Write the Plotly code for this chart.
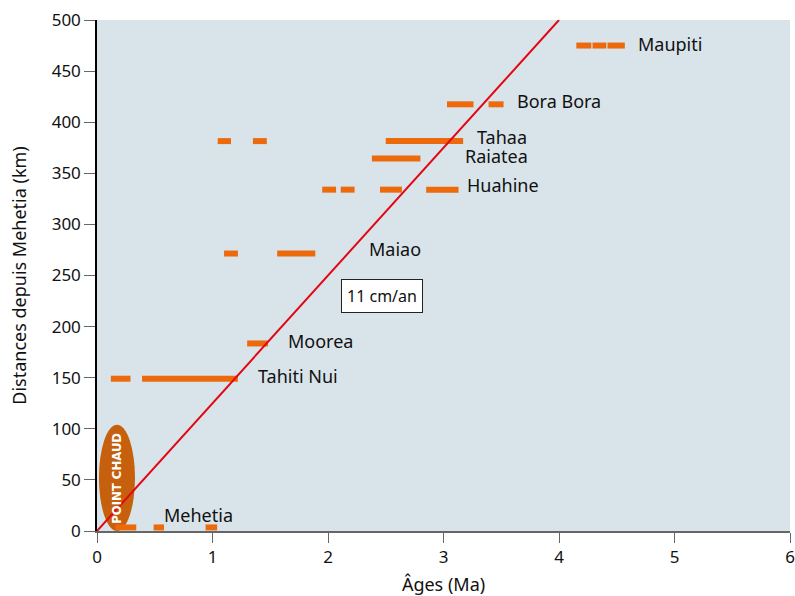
import plotly.graph_objects as go

# ---- data ----
islands = ["Mehetia", "Tahiti Nui", "Moorea", "Maiao", "Huahine", "Raiatea", "Tahaa", "Bora Bora", "Maupiti"]
distances = [3.5, 149, 183.5, 271.5, 334, 364.5, 381.5, 417.5, 475]
age_segments = [
    [(0.16, 0.34), (0.49, 0.58), (0.94, 1.04)],
    [(0.12, 0.29), (0.39, 1.22)],
    [(1.30, 1.48)],
    [(1.10, 1.22), (1.56, 1.89)],
    [(1.95, 2.07), (2.11, 2.23), (2.45, 2.64), (2.85, 3.13)],
    [(2.38, 2.80)],
    [(1.045, 1.16), (1.35, 1.47), (2.50, 3.17)],
    [(3.03, 3.26), (3.39, 3.52)],
    [(4.15, 4.28), (4.29, 4.41), (4.42, 4.57)],
]
label_pos = {
    "Maupiti": (4.67, 477), "Bora Bora": (3.62, 421), "Tahaa": (3.27, 386),
    "Raiatea": (3.17, 367), "Huahine": (3.19, 339), "Maiao": (2.335, 275.7),
    "Moorea": (1.64, 185.7), "Tahiti Nui": (1.38, 151.5), "Mehetia": (0.56, 15.6),
}
rate_line_x = [0, 4]
rate_line_y = [0, 500]
x_ticks = [0, 1, 2, 3, 4, 5, 6]
y_ticks = [0, 50, 100, 150, 200, 250, 300, 350, 400, 450, 500]

FONT = "Noto Sans"
ORANGE = "#ec6a0c"

fig = go.Figure()

xs, ys = [], []
for d, segs in zip(distances, age_segments):
    for a, b in segs:
        xs += [a, b, None]
        ys += [d, d, None]
fig.add_trace(go.Scatter(x=xs, y=ys, mode="lines",
                         line=dict(color=ORANGE, width=6), hoverinfo="skip", showlegend=False))

fig.add_trace(go.Scatter(x=rate_line_x, y=rate_line_y, mode="lines",
                         line=dict(color="#e30613", width=2), showlegend=False, hoverinfo="skip"))

# hot spot ellipse
fig.add_shape(type="circle", xref="x", yref="y", x0=0.017, x1=0.329, y0=0, y1=104,
              fillcolor="#c6600c", line=dict(width=0), layer="below")
fig.add_annotation(x=0.173, y=52, text="<b>POINT CHAUD</b>", textangle=-90, showarrow=False,
                   font=dict(family="DejaVu Sans Condensed, " + FONT, size=13, color="white"))

for name in islands:
    x, y = label_pos[name]
    fig.add_annotation(x=x, y=y, text=name, showarrow=False, xanchor="left", yanchor="middle",
                       font=dict(family=FONT, size=18, color="#111"))

fig.add_annotation(x=2.47, y=229.7, text="11 cm/an", showarrow=False,
                   font=dict(family=FONT, size=16, color="#111"),
                   bgcolor="white", bordercolor="#222", borderwidth=1, borderpad=5)

fig.update_layout(
    width=795, height=596,
    margin=dict(l=97, r=5, t=20, b=65),
    paper_bgcolor="white", plot_bgcolor="#d9e4ea",
    font=dict(family=FONT, color="#111"),
    xaxis=dict(range=[0, 6], tickvals=x_ticks, showgrid=False, zeroline=False, automargin=False,
               ticklabeloverflow="allow",
               showline=True, linecolor="#666", linewidth=1.5,
               ticks="outside", ticklen=10, tickcolor="#666",
               tickfont=dict(size=17, family=FONT),
               title=dict(text="Âges (Ma)", font=dict(size=18, family=FONT), standoff=11)),
    yaxis=dict(range=[0, 500], tickvals=y_ticks, showgrid=False, zeroline=False, automargin=False,
               ticklabeloverflow="allow",
               showline=True, linecolor="black", linewidth=1.5,
               ticks="outside", ticklen=11, tickcolor="#666",
               tickfont=dict(size=17, family=FONT),
               title=dict(text="Distances depuis Mehetia (km)", font=dict(size=18, family=FONT), standoff=20)),
)

fig.write_html("out.html", config={"displayModeBar": False},
               post_script="document.body.style.margin='0';document.body.style.overflow='hidden';")
